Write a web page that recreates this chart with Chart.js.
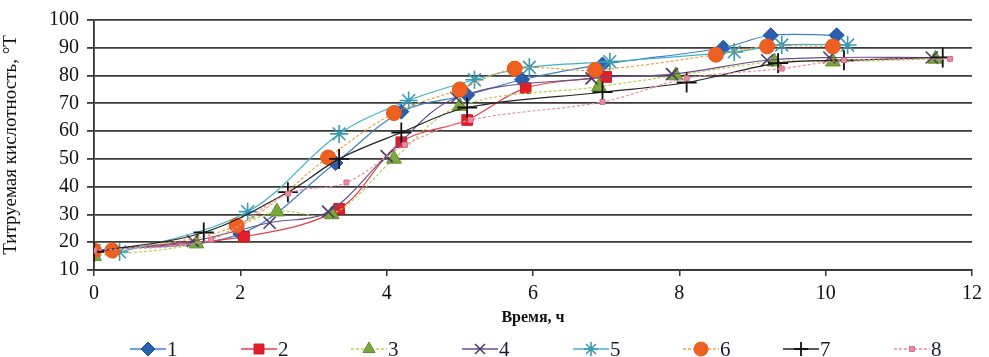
<!DOCTYPE html>
<html>
<head>
<meta charset="utf-8">
<script src="https://cdn.jsdelivr.net/npm/chart.js@4/dist/chart.umd.min.js"></script>
<style>
  html, body { margin: 0; padding: 0; background: #ffffff; }
  #wrap { width: 989px; height: 357px; position: relative; }
</style>
</head>
<body>
<div id="wrap"><canvas id="c" width="989" height="357"></canvas></div>
<script>
// ---- Data ----
const seriesNames = ['1', '2', '3', '4', '5', '6', '7', '8'];

const time1 = [0, 2.0, 3.3, 4.2, 5.1, 5.85, 6.95, 8.6, 9.25, 10.15];
const acid1 = [17, 23, 48.5, 67, 73, 78.5, 84, 90, 94.5, 94.5];

const time2 = [0, 2.05, 3.35, 4.2, 5.1, 5.9, 7.0];
const acid2 = [17, 22, 32, 56, 64, 75.5, 79.5];

const time3 = [0, 1.4, 2.5, 3.25, 4.1, 5.0, 6.9, 7.95, 9.3, 10.1, 11.5];
const acid3 = [15, 19.5, 31, 30, 50, 69, 76, 80, 85, 85, 86];

const time4 = [0, 1.35, 2.4, 3.2, 4.0, 4.95, 6.8, 7.9, 9.2, 10.05, 11.45];
const acid4 = [17, 20.5, 27, 31, 51, 72, 79, 80.5, 85.5, 86.5, 86.5];

const time5 = [0, 0.35, 2.1, 3.35, 4.3, 5.2, 5.95, 7.05, 8.75, 9.4, 10.3];
const acid5 = [17, 16.5, 31, 59, 71, 78.5, 83, 85, 88.5, 91, 91];

const time6 = [0, 0.25, 1.95, 3.2, 4.1, 5.0, 5.75, 6.85, 8.5, 9.2, 10.1];
const acid6 = [17, 17, 26, 50.5, 66.5, 75, 82.5, 82, 87.5, 90.5, 90.5];

const time7 = [0, 1.5, 2.65, 3.35, 4.2, 5.1, 6.95, 8.1, 9.35, 10.25, 11.6];
const acid7 = [16.5, 23.5, 38, 50, 59.5, 68.5, 74, 77.5, 84.5, 85.5, 86.5];

const time8 = [0, 1.6, 2.65, 3.45, 4.25, 5.15, 6.95, 8.1, 9.4, 10.25, 11.7];
const acid8 = [17, 21, 37.5, 41.5, 55, 64, 70.5, 79, 82.5, 85.5, 86];

const xTicks = [0, 2, 4, 6, 8, 10, 12];
const yTicks = [10, 20, 30, 40, 50, 60, 70, 80, 90, 100];

const xTitle = 'Время, ч';
const yTitle = 'Титруемая кислотность, °Т';

// ---- Styles ----
const styles = [
  { line: '#3f7fc8', fill: '#2a5fb0', stroke: '#1f4f9a', point: 'rectRot', r: 7.5, dash: [] , bw: 1},
  { line: '#e0404a', fill: '#e3202a', stroke: '#c81820', point: 'rect', r: 7.5, dash: [], bw: 1 },
  { line: '#b8cf50', fill: '#7aa83a', stroke: '#5f8a2a', point: 'triangle', r: 8.5, dash: [3, 2], bw: 1 },
  { line: '#6a4f8a', fill: '#5a4a7a', stroke: '#4a3a6a', point: 'crossRot', r: 8.5, dash: [], bw: 1.6 },
  { line: '#40b0c8', fill: '#3a9ab0', stroke: '#3a9ab0', point: 'star', r: 9, dash: [], bw: 1.6 },
  { line: '#f0a040', fill: '#ee6020', stroke: '#e85818', point: 'circle', r: 7.5, dash: [3, 2], bw: 1 },
  { line: '#222222', fill: '#111111', stroke: '#111111', point: 'cross', r: 10, dash: [], bw: 1.8 },
  { line: '#f08ca0', fill: '#e88aa0', stroke: '#d87090', point: 'rect', r: 3.5, dash: [3, 2], bw: 1 }
];

const times = [time1, time2, time3, time4, time5, time6, time7, time8];
const acids = [acid1, acid2, acid3, acid4, acid5, acid6, acid7, acid8];

const datasets = seriesNames.map((name, i) => ({
  label: name,
  data: times[i].map((t, k) => ({ x: t, y: acids[i][k] })),
  borderColor: styles[i].line,
  borderWidth: 1.2,
  borderDash: styles[i].dash,
  backgroundColor: styles[i].fill,
  pointStyle: styles[i].point,
  pointRadius: styles[i].r,
  pointBackgroundColor: styles[i].fill,
  pointBorderColor: styles[i].stroke,
  pointBorderWidth: styles[i].bw,
  tension: 0.35,
  fill: false,
  order: 8 - i
}));

const serif = "'Liberation Serif', 'DejaVu Serif', serif";

const legendPlugin = {
  id: 'customLegend',
  afterDraw(chart) {
    const ctx = chart.ctx;
    const centers = [148, 259, 369, 480, 591, 701, 801, 912];
    const y = 349;
    ctx.save();
    chart.data.datasets.forEach((ds, i) => {
      const cx = centers[i];
      ctx.beginPath();
      ctx.setLineDash(styles[i].dash);
      ctx.strokeStyle = styles[i].line;
      ctx.lineWidth = 1.5;
      ctx.moveTo(cx - 18, y);
      ctx.lineTo(cx + 18, y);
      ctx.stroke();
      ctx.setLineDash([]);
      ctx.fillStyle = styles[i].fill;
      ctx.strokeStyle = styles[i].stroke;
      ctx.lineWidth = styles[i].bw;
      if (Chart.helpers && Chart.helpers.drawPoint) {
        Chart.helpers.drawPoint(ctx, {
          pointStyle: styles[i].point,
          radius: Math.min(styles[i].r, 7),
          rotation: 0,
          borderWidth: styles[i].bw
        }, cx, y);
      }
      ctx.fillStyle = '#1a1a30';
      ctx.font = "21px " + serif;
      ctx.textAlign = 'left';
      ctx.textBaseline = 'middle';
      ctx.fillText(ds.label, cx + 19, y + 1);
    });
    ctx.restore();
  }
};

new Chart(document.getElementById('c'), {
  type: 'line',
  data: { datasets },
  plugins: [legendPlugin],
  options: {
    responsive: false,
    animation: false,
    devicePixelRatio: 1,
    layout: { padding: { top: 18, right: 17, bottom: 30, left: 0 } },
    plugins: {
      legend: { display: false },
      tooltip: { enabled: false }
    },
    scales: {
      x: {
        type: 'linear',
        min: 0,
        max: 12,
        afterBuildTicks(scale) { scale.ticks = xTicks.map(v => ({ value: v })); },
        ticks: {
          color: '#111',
          font: { family: serif, size: 20 },
          padding: 6,
          maxRotation: 0
        },
        grid: { drawOnChartArea: false, drawTicks: true, tickLength: 6, color: '#333', lineWidth: 1.5 },
        border: { display: true, color: '#333', width: 1.8 },
        title: {
          display: true,
          text: xTitle,
          color: '#111',
          font: { family: serif, size: 16, weight: 'bold' },
          padding: { top: 0, bottom: 0 }
        },
        afterFit(scale) { scale.height = 57; }
      },
      y: {
        type: 'linear',
        min: 10,
        max: 100,
        afterBuildTicks(scale) { scale.ticks = yTicks.map(v => ({ value: v })); },
        ticks: {
          color: '#111',
          font: { family: serif, size: 20 },
          padding: 8
        },
        grid: { color: '#3a3a3a', lineWidth: 1.8, drawTicks: true, tickLength: 7 },
        border: { display: true, color: '#333', width: 1.8 },
        title: {
          display: true,
          text: yTitle,
          color: '#111',
          font: { family: serif, size: 19 },
          padding: { top: 0, bottom: 4 }
        },
        afterFit(scale) { scale.width = 94; }
      }
    }
  }
});
</script>
</body>
</html>
